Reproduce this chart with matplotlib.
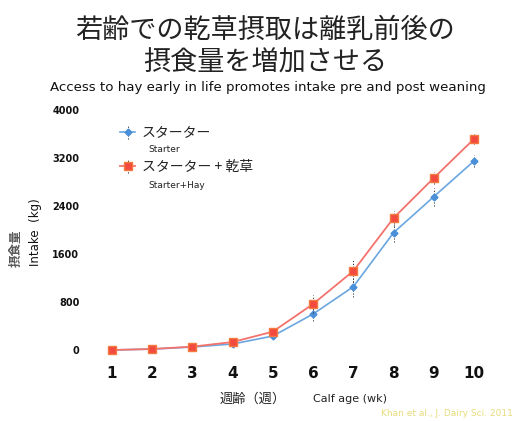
import matplotlib
matplotlib.use("Agg")
import matplotlib.pyplot as plt

plt.rcParams['font.family'] = ['Noto Sans CJK JP', 'DejaVu Sans']

weeks = [1, 2, 3, 4, 5, 6, 7, 8, 9, 10]
starter = [0, 15, 50, 100, 233, 600, 1055, 1955, 2555, 3150]
starter_err = [10, 10, 20, 30, 40, 110, 170, 150, 150, 100]
starter_hay = [0, 17, 56, 133, 306, 767, 1317, 2200, 2867, 3517]
starter_hay_err = [10, 10, 20, 30, 50, 150, 180, 125, 100, 80]
y_ticks = [0, 800, 1600, 2400, 3200, 4000]

title_lines = ["若齢での乾草摂取は離乳前後の", "摂食量を増加させる"]
subtitle = "Access to hay early in life promotes intake pre and post weaning"
label_starter = "スターター"
label_hay = "スターター + 乾草"
sub_starter = "Starter"
sub_hay = "Starter+Hay"

W, H = 529, 421
fig = plt.figure(figsize=(W / 100, H / 100), dpi=100)
fig.patch.set_facecolor('white')


def px(x, y):
    return x / W, 1 - y / H


ax = fig.add_axes([91.9 / W, 1 - 362 / H, (494.1 - 91.9) / W, (362 - 110) / H])
ax.set_xlim(0.5, 10.5)
ax.set_ylim(-200, 4000)
for s in ax.spines.values():
    s.set_visible(False)
ax.set_facecolor('white')

blue = '#6aa6e0'
blue_m = '#4a8fd8'
red = '#f4726c'
red_m = '#f24a3f'

eb1 = ax.errorbar(weeks, starter, yerr=starter_err, color=blue, lw=1.2,
                  marker='D', ms=3.5, mfc=blue_m, mec=blue_m,
                  ecolor='#333333', elinewidth=0.7, capsize=0, zorder=3,
                  label=label_starter)
eb1[2][0].set_linestyle((0, (1.2, 1.8)))
eb2 = ax.errorbar(weeks, starter_hay, yerr=starter_hay_err, color=red, lw=1.3,
                  marker='s', ms=5.5, mfc=red_m, mec='#f47a40',
                  ecolor='#333333', elinewidth=0.7, capsize=0, zorder=4,
                  label=label_hay)
eb2[2][0].set_linestyle((0, (1.2, 1.8)))

ax.set_xticks(weeks)
ax.set_xticklabels([str(w) for w in weeks], fontsize=11, fontweight='bold',
                   family='DejaVu Sans', color='#111111')
ax.set_yticks(y_ticks)
ax.set_yticklabels([str(v) for v in y_ticks], fontsize=7, fontweight='bold',
                   family='DejaVu Sans', color='#111111')
ax.tick_params(axis='both', length=0)
ax.tick_params(axis='x', pad=3)
ax.tick_params(axis='y', pad=9)

leg = ax.legend(loc='upper left', bbox_to_anchor=(px(120, 126)),
                bbox_transform=fig.transFigure, frameon=False, fontsize=10,
                handlelength=1.1, handletextpad=0.45, labelspacing=1.45,
                borderpad=0, borderaxespad=0)
for t in leg.get_texts():
    t.set_color('#222222')

fig.text(*px(148, 149), sub_starter, fontsize=6.5, family='DejaVu Sans',
         color='#222222', va='center', ha='left')
fig.text(*px(148, 185), sub_hay, fontsize=6.5, family='DejaVu Sans',
         color='#222222', va='center', ha='left')

fig.text(*px(265, 30), title_lines[0], fontsize=19.5, ha='center', va='center',
         color='#222222')
fig.text(*px(265, 63), title_lines[1], fontsize=19.5, ha='center', va='center',
         color='#222222')
fig.text(*px(268, 88), subtitle, fontsize=9.6, ha='center', va='center',
         family='DejaVu Sans', color='#111111')

# y-axis labels: Japanese and English columns
fig.text(*px(16, 248), "摂食量", fontsize=9, rotation=90, ha='center',
         va='center', color='#5a5a5a', fontweight='bold')
fig.text(*px(36, 232), "Intake  (kg)", fontsize=8.5, rotation=90,
         ha='center', va='center', family='DejaVu Sans', color='#111111')

# x-axis labels
fig.text(*px(253, 399), "週齢（週）", fontsize=9.5, ha='center', va='center',
         color='#222222')
fig.text(*px(350, 399), "Calf age (wk)", fontsize=8, ha='center', va='center',
         family='DejaVu Sans', color='#222222')

fig.text(*px(447, 413), "Khan et al., J. Dairy Sci. 2011", fontsize=6.5,
         ha='center', va='center', family='DejaVu Sans', color='#e8dc7a')

fig.savefig('out.png', dpi=100, facecolor='white')
